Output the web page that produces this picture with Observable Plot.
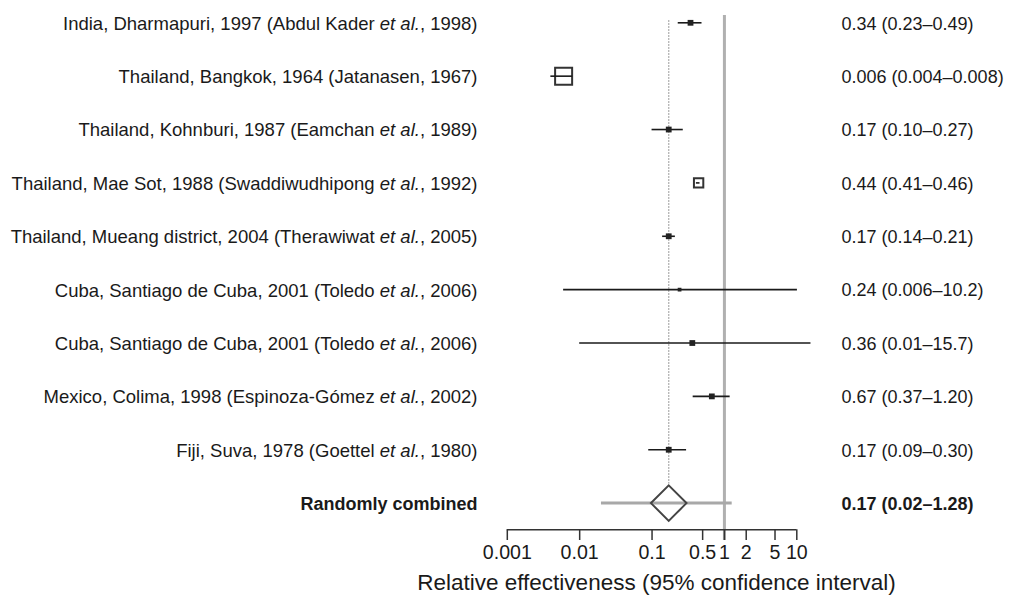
<!DOCTYPE html>
<html>
<head>
<meta charset="utf-8">
<script src="https://cdn.jsdelivr.net/npm/d3@7"></script>
<script src="https://cdn.jsdelivr.net/npm/@observablehq/plot@0.6"></script>
<style>
  html, body { margin: 0; padding: 0; background: #fff; }
</style>
</head>
<body>
<div id="chart"></div>
<script>
// ---- data ----
const studies = [
  "India, Dharmapuri, 1997 (Abdul Kader et al., 1998)",
  "Thailand, Bangkok, 1964 (Jatanasen, 1967)",
  "Thailand, Kohnburi, 1987 (Eamchan et al., 1989)",
  "Thailand, Mae Sot, 1988 (Swaddiwudhipong et al., 1992)",
  "Thailand, Mueang district, 2004 (Therawiwat et al., 2005)",
  "Cuba, Santiago de Cuba, 2001 (Toledo et al., 2006)",
  "Cuba, Santiago de Cuba, 2001 (Toledo et al., 2006)",
  "Mexico, Colima, 1998 (Espinoza-Gómez et al., 2002)",
  "Fiji, Suva, 1978 (Goettel et al., 1980)"
];
const estimates = ["0.34", "0.006", "0.17", "0.44", "0.17", "0.24", "0.36", "0.67", "0.17"];
const lowers    = ["0.23", "0.004", "0.10", "0.41", "0.14", "0.006", "0.01", "0.37", "0.09"];
const uppers    = ["0.49", "0.008", "0.27", "0.46", "0.21", "10.2", "15.7", "1.20", "0.30"];
const weights   = [0.34, 1.0, 0.34, 0.55, 0.34, 0.22, 0.34, 0.34, 0.34];

const combinedLabel = "Randomly combined";
const combinedEstimate = "0.17";
const combinedLower = "0.02";
const combinedUpper = "1.28";

const tickValues = [0.001, 0.01, 0.1, 0.5, 1, 2, 5, 10];
const tickLabels = ["0.001", "0.01", "0.1", "0.5", "1", "2", "5", "10"];
const axisTitle = "Relative effectiveness (95% confidence interval)";

// ---- build tables ----
const rows = studies.map((s, i) => ({
  row: i,
  label: s,
  est: +estimates[i],
  lo: +lowers[i],
  hi: +uppers[i],
  w: weights[i],
  text: `${estimates[i]} (${lowers[i]}–${uppers[i]})`
}));
const combinedRow = studies.length;
const combined = [{
  row: combinedRow,
  label: combinedLabel,
  est: +combinedEstimate,
  lo: +combinedLower,
  hi: +combinedUpper,
  text: `${combinedEstimate} (${combinedLower}–${combinedUpper})`
}];
const axisRow = combinedRow + 0.5;
const ticks = tickValues.map((v, i) => ({ v, label: tickLabels[i] }));

const ink = "#1a1a1a";

const chart = Plot.plot({
  width: 1010,
  height: 601,
  marginLeft: 0,
  marginRight: 0,
  marginTop: 0,
  marginBottom: 71.7,
  style: { fontFamily: "'Liberation Sans', Arial, sans-serif", fontSize: "18px", background: "#fff", color: ink },
  x: { type: "log", domain: [0.001, 10], range: [506.8, 796.3], axis: null },
  y: { type: "linear", domain: [0, axisRow], range: [22.3, 529.3], axis: null },
  r: { type: "linear", domain: [0, 1], range: [0, 9.6] },
  marks: [
    // dotted line at combined estimate
    Plot.ruleX(combined, { x: "est", y1: 0, y2: combinedRow, stroke: "#9a9a9a", strokeWidth: 1.3, strokeDasharray: "1.5,1.5", insetTop: -2, insetBottom: 19 }),
    // line of no effect
    Plot.ruleX([1], { stroke: "#b0b0b0", strokeWidth: 3, insetTop: 15, insetBottom: -10.7 }),
    // open (large) boxes
    Plot.dot(rows.filter(d => d.w > 0.5), { x: "est", y: "row", r: "w", symbol: "square", fill: "#fff", stroke: "#333", strokeWidth: 2 }),
    // confidence intervals
    Plot.ruleY(rows, { y: "row", x1: "lo", x2: "hi", stroke: ink, strokeWidth: 1.6 }),
    // filled boxes
    Plot.dot(rows.filter(d => d.w <= 0.5), { x: "est", y: "row", r: "w", symbol: "square", fill: "#222", stroke: "none" }),
    // combined
    Plot.ruleY(combined, { y: "row", x1: "lo", x2: "hi", stroke: "#a8a8a8", strokeWidth: 3 }),
    Plot.dot(combined, { x: "est", y: "row", r: 16, symbol: "diamond2", fill: "none", stroke: "#444", strokeWidth: 2 }),
    // left labels
    Plot.text(rows, { y: "row", text: "label", frameAnchor: "left", dx: 477, dy: 1, textAnchor: "end", fill: ink, fontSize: 18.5 }),
    Plot.text(combined, { y: "row", text: "label", frameAnchor: "left", dx: 477, dy: 1, textAnchor: "end", fill: ink, fontSize: 18, fontWeight: "bold" }),
    // right labels
    Plot.text(rows, { y: "row", text: "text", frameAnchor: "left", dx: 841, dy: 1, textAnchor: "start", fill: ink, fontSize: 18 }),
    Plot.text(combined, { y: "row", text: "text", frameAnchor: "left", dx: 841, dy: 1, textAnchor: "start", fill: ink, fontSize: 18, fontWeight: "bold" }),
    // axis line, ticks and tick labels
    Plot.ruleY([axisRow], { x1: tickValues[0], x2: tickValues[tickValues.length - 1], stroke: "#333", strokeWidth: 1.5 }),
    Plot.ruleX(ticks, { x: "v", y1: axisRow, y2: axisRow, insetBottom: -10.7, stroke: "#333", strokeWidth: 1.5 }),
    Plot.text(ticks, { x: "v", text: "label", frameAnchor: "bottom", dy: 29, fontSize: 19.6, fill: ink }),
    Plot.text([axisTitle], { frameAnchor: "bottom-left", dx: 416.7, dy: 60.2, textAnchor: "start", fontSize: 22.5, fill: ink })
  ]
});

// italicise "et al."
chart.querySelectorAll("text").forEach(el => {
  if (el.children.length === 0 && el.textContent.includes("et al.")) {
    const parts = el.textContent.split("et al.");
    el.textContent = "";
    parts.forEach((p, i) => {
      if (i > 0) {
        const ts = document.createElementNS("http://www.w3.org/2000/svg", "tspan");
        ts.setAttribute("font-style", "italic");
        ts.textContent = "et al.";
        el.appendChild(ts);
      }
      el.appendChild(document.createTextNode(p));
    });
  }
});

document.getElementById("chart").appendChild(chart);
</script>
</body>
</html>
